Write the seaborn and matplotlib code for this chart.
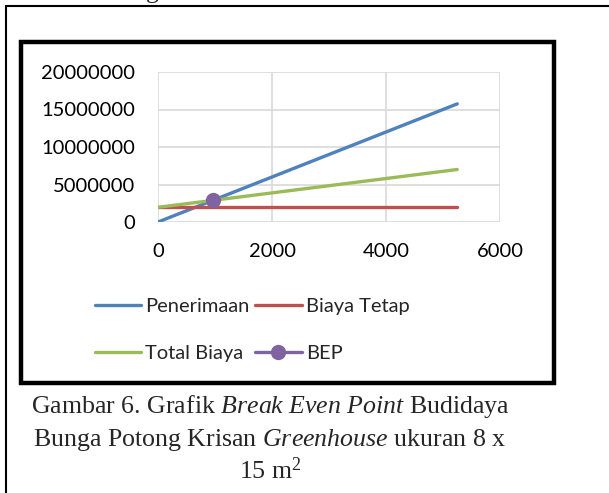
import matplotlib
matplotlib.use("Agg")
import matplotlib.pyplot as plt
import seaborn as sns
import pandas as pd
from matplotlib.lines import Line2D
from matplotlib.patches import Rectangle

# data
produksi = [0, 5250]
penerimaan = [0, 15750000]
biaya_tetap = [1960000, 1960000]
total_biaya = [1960000, 7000000]
bep_x = [960]
bep_y = [2880000]

sns.set_theme(style="white")
plt.rcParams["font.family"] = ["Lato", "DejaVu Sans"]
plt.rcParams["mathtext.fontset"] = "custom"
plt.rcParams["mathtext.rm"] = "Liberation Serif"
plt.rcParams["mathtext.it"] = "Liberation Serif:italic"

W, H = 609, 493
fig = plt.figure(figsize=(W / 100, H / 100), dpi=100)


def fx(px):
    return px / W


def fy(py):
    return 1 - py / H


ax = fig.add_axes([fx(158), fy(222), fx(500) - fx(158), fy(72) - fy(222)])

df = pd.DataFrame({
    "x": produksi * 3,
    "y": penerimaan + biaya_tetap + total_biaya,
    "seri": ["Penerimaan"] * 2 + ["Biaya Tetap"] * 2 + ["Total Biaya"] * 2,
})
warna = {"Penerimaan": "#4F81BD", "Biaya Tetap": "#C0504D", "Total Biaya": "#9BBB59"}
sns.lineplot(data=df, x="x", y="y", hue="seri", palette=warna, linewidth=2.4,
             ax=ax, legend=False, sort=False)
ax.plot(bep_x, bep_y, color="#8064A2", marker="o", markersize=10, linewidth=2.4)

ax.set_xlim(0, 6000)
ax.set_ylim(0, 20000000)
ax.set_xticks([0, 2000, 4000, 6000])
ax.set_yticks([0, 5000000, 10000000, 15000000, 20000000])
ax.set_yticklabels(["0", "5000000", "10000000", "15000000", "20000000"])
ax.grid(True, color="#D9D9D9", linewidth=1.2)
ax.set_axisbelow(True)
for s in ax.spines.values():
    s.set_visible(False)
ax.tick_params(axis="both", labelsize=14.5, length=0, colors="black")
ax.tick_params(axis="x", pad=15)
ax.tick_params(axis="y", pad=16.5)
ax.set_xlabel("")
ax.set_ylabel("")

# legend filled column by column, so this order gives the rows of the reference
handles = [
    Line2D([], [], color="#4F81BD", linewidth=2.4),
    Line2D([], [], color="#9BBB59", linewidth=2.4),
    Line2D([], [], color="#C0504D", linewidth=2.4),
    Line2D([], [], color="#8064A2", linewidth=2.4, marker="o", markersize=10),
]
labels = ["Penerimaan", "Total Biaya", "Biaya Tetap", "BEP"]
fig.legend(handles, labels, ncol=2, loc="center", bbox_to_anchor=(fx(252), fy(330)),
           frameon=False, fontsize=14.5, handlelength=2.3, handletextpad=0.2,
           columnspacing=0.3, labelspacing=1.5)

# frames of the page
fig.add_artist(Line2D([fx(6), fx(609)], [fy(6), fy(6)], color="black", linewidth=1.5))
fig.add_artist(Line2D([fx(6), fx(6)], [fy(6), fy(493)], color="black", linewidth=1.5))
fig.add_artist(Rectangle((fx(21), fy(383)), fx(554) - fx(21), fy(42) - fy(383),
                         fill=False, edgecolor="black", linewidth=3.2,
                         transform=fig.transFigure))

fig.text(fx(152), fy(-2), "g", family="Liberation Serif", fontsize=18.5,
         ha="center", va="baseline")

caption = [
    r"Gambar 6. Grafik $\mathit{Break\ Even\ Point}$ Budidaya",
    r"Bunga Potong Krisan $\mathit{Greenhouse}$ ukuran 8 x",
    r"15 m$^2$",
]
for i, line in enumerate(caption):
    fig.text(fx(270), fy(413 + i * 33), line, family="Liberation Serif",
             fontsize=18.6, ha="center", va="baseline")

fig.savefig("out.png", dpi=100, facecolor="white")
